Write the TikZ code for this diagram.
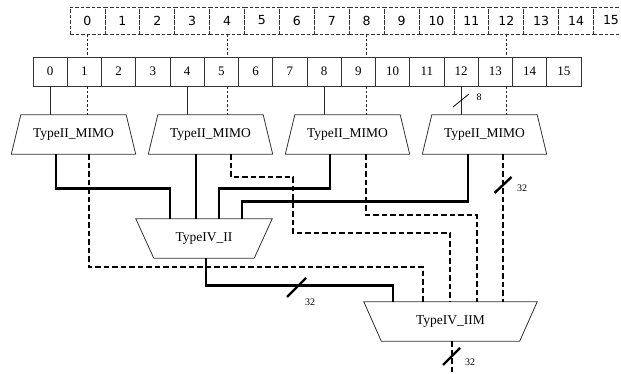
\documentclass[tikz,border=0pt]{standalone}
\usepackage{fontspec}
\setmainfont{Liberation Serif}
\newfontfamily\topfont{DejaVu Sans}
\begin{document}
\begin{tikzpicture}[x=1pt,y=-1pt,
  tbox/.style={draw=black!80, dash pattern=on 3.5pt off 2pt, line width=0.7pt, minimum width=34.9pt, minimum height=27pt, inner sep=0pt, font=\topfont\fontsize{12.5}{14}\selectfont},
  rbox/.style={draw=black!80, line width=0.8pt, minimum width=34.25pt, minimum height=29pt, inner sep=0pt, font=\fontsize{13}{15}\selectfont},
  blk/.style={minimum height=39pt, inner sep=0pt, font=\fontsize{13.5}{15}\selectfont},
  trapo/.style={draw=black!80, line width=0.8pt},
  feed/.style={line width=0.8pt, black!85},
  feeddash/.style={line width=0.7pt, dash pattern=on 2.5pt off 2pt, black!85},
  bus/.style={line width=2.7pt},
  busdash/.style={line width=2.3pt, dash pattern=on 5.5pt off 3pt},
  mid/.style={line width=1.3pt},
  slash/.style={line width=2.4pt},
  thinslash/.style={line width=0.8pt},
  lbl/.style={font=\fontsize{10}{12}\selectfont, inner sep=0pt}
]
\clip (0,0) rectangle (621,374);
% top dashed row
\foreach \i in {0,...,15} \node[tbox] (t\i) at ({87.45+34.9*\i},20.5) {\i};
% second row
\foreach \i in {0,...,15} \node[rbox] (r\i) at ({50.125+34.25*\i},71.5) {\i};
% MIMO blocks
\foreach \i/\x in {1/73.5,2/210.5,3/347.5,4/484.5}{
  \node[blk, minimum width=124pt] (m\i) at (\x,134.5) {TypeII\_MIMO};
  \draw[trapo] ([xshift=9.5pt]m\i.north west) -- ([xshift=-9.5pt]m\i.north east) -- (m\i.south east) -- (m\i.south west) -- cycle;
}
% TypeIV_II
\node[blk, minimum width=136pt] (c1) at (204,238.5) {TypeIV\_II};
\draw[trapo] (c1.north west) -- (c1.north east) -- ([xshift=-18pt]c1.south east) -- ([xshift=18pt]c1.south west) -- cycle;
% TypeIV_IIM
\node[blk, minimum width=173pt] (c2) at (450.5,321.5) {TypeIV\_IIM};
\draw[trapo] (c2.north west) -- (c2.north east) -- ([xshift=-17.5pt]c2.south east) -- ([xshift=17.5pt]c2.south west) -- cycle;
\coordinate (out) at (452,378);
% feeds from rows
\foreach \k/\m in {0/1,4/2,8/3,12/4}{
  \draw[feeddash] (t\k.south) -- (t\k.south |- r0.north);
  \draw[feeddash] (t\k.south |- r0.south) -- (t\k.south |- m\m.north);
  \draw[feed] (r\k.south) -- (r\k.south |- m\m.north);
}
\draw[thinslash] (453,107) -- (469,94);
\node[lbl] (l8) at (479,97) {8};
% MIMO -> TypeIV_II
\draw[bus] ([xshift=-17.5pt]m1.south) -- ++(0,34) -| ([xshift=-34pt]c1.north);
\draw[mid] ([xshift=-14.5pt]m2.south) -- ([xshift=-8pt]c1.north);
\draw[bus] ([xshift=-17.5pt]m3.south) -- ++(0,34) -| ([xshift=15pt]c1.north);
\draw[bus] ([xshift=-16.5pt]m4.south) -- ++(0,47) -| ([xshift=38pt]c1.north);
% MIMO -> TypeIV_IIM
\draw[busdash] ([xshift=15.5pt]m1.south) -- ++(0,113) -| ([xshift=-27.5pt]c2.north);
\draw[busdash] ([xshift=20.5pt]m2.south) -- ++(0,23) -- ++(62,0) -- ++(0,56) -| ([xshift=-0.5pt]c2.north);
\draw[busdash] ([xshift=18.5pt]m3.south) -- ++(0,61) -| ([xshift=26.5pt]c2.north);
\draw[busdash] ([xshift=18.5pt]m4.south) -- ([xshift=52.5pt]c2.north);
\draw[bus] ([xshift=2pt]c1.south) -- ++(0,27) -| ([xshift=-57.5pt]c2.north);
\draw[busdash] ([xshift=1.5pt]c2.south) -- (out);
% bus width marks
\draw[slash] (503,185) ++(-8.5,8) -- ++(17,-16);
\node[lbl] (l32a) at (522,188) {32};
\draw[slash] (296.5,287.5) ++(-9.5,9.5) -- ++(19,-19);
\node[lbl] (l32b) at (310,302) {32};
\draw[slash] (451.5,356.5) ++(-8.5,8.5) -- ++(17,-17);
\node[lbl] (l32c) at (470,362) {32};
\end{tikzpicture}
\end{document}
